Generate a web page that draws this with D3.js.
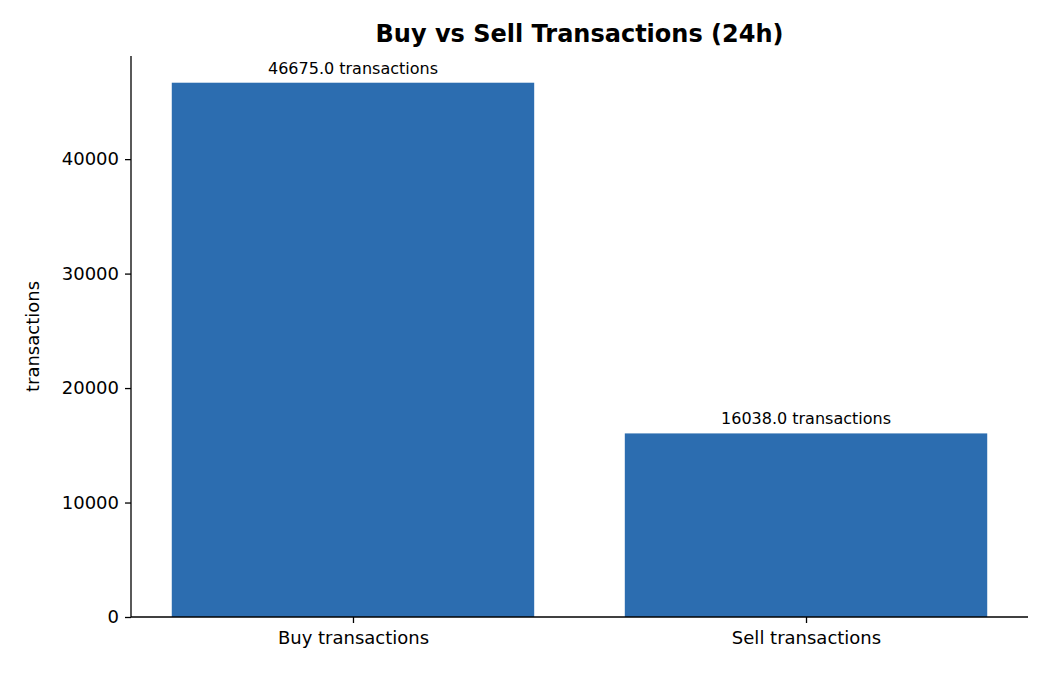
<!DOCTYPE html>
<html><head><meta charset="utf-8">
<script src="https://cdn.jsdelivr.net/npm/d3@7"></script>
<style>body{margin:0;background:#fff}text{font-family:"DejaVu Sans",sans-serif}</style>
</head><body><svg id="c" width="1050" height="675"></svg>
<script>
const categories=["Buy transactions","Sell transactions"];
const values=[46675.0,16038.0];
const yTicks=[0,10000,20000,30000,40000];
const svg=d3.select("#c");
const L=131,R=1028,T=56,B=617;
const x=d3.scaleLinear().domain([-0.49,1.49]).range([L,R]);
const y=d3.scaleLinear().domain([0,d3.max(values)*1.05]).range([B,T]);
const bw=0.8;
svg.selectAll("rect.bar").data(values).join("rect").attr("class","bar")
 .attr("x",(d,i)=>x(i-bw/2)).attr("width",(d,i)=>x(i+bw/2)-x(i-bw/2))
 .attr("y",d=>y(d)).attr("height",d=>B-y(d)).attr("fill","#2c6db0");
svg.selectAll("text.lab").data(values).join("text").attr("class","lab")
 .attr("x",(d,i)=>x(i)).attr("y",d=>y(d)-9).attr("text-anchor","middle")
 .attr("font-size",16).text(d=>d.toFixed(1)+" transactions");
const ya=svg.append("g").attr("transform",`translate(${L},0)`)
 .call(d3.axisLeft(y).tickValues(yTicks).tickSize(6).tickPadding(6).tickFormat(d3.format("d")));
const xa=svg.append("g").attr("transform",`translate(0,${B})`)
 .call(d3.axisBottom(x).tickValues([0,1]).tickSize(6).tickPadding(8).tickFormat(i=>categories[i]));
[ya,xa].forEach(a=>{a.selectAll("text").attr("font-size",18).attr("fill","#000");a.selectAll("line,path").attr("stroke","#000").attr("stroke-width",1.3);});
xa.select("path").attr("d",`M${L},0H${R}`);
ya.select("path").attr("d",`M0,${B}V${T}`);
svg.append("text").attr("x",(L+R)/2+0).attr("y",42).attr("text-anchor","middle")
 .attr("font-size",24).attr("font-weight","bold").text("Buy vs Sell Transactions (24h)");
svg.append("text").attr("transform",`translate(39,${(T+B)/2}) rotate(-90)`)
 .attr("text-anchor","middle").attr("font-size",18).text("transactions");
</script></body></html>
